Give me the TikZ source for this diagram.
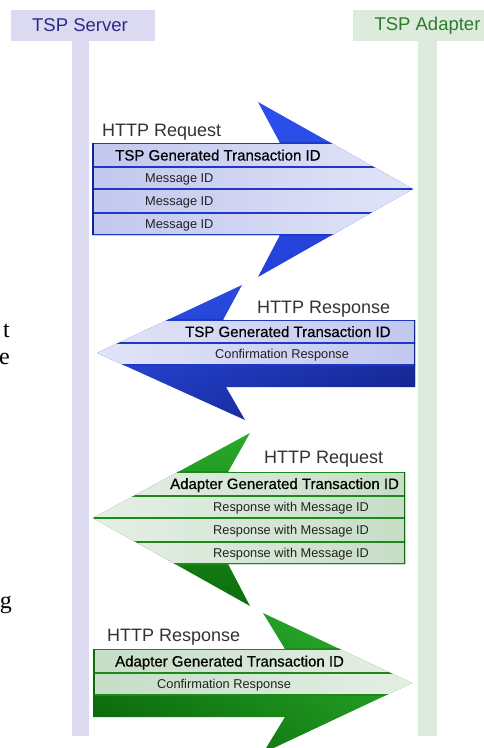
\documentclass[tikz,border=0pt]{standalone}
\usepackage{fontspec}
\setmainfont{Liberation Sans}
\newfontfamily\pageserif{Liberation Serif}
\newfontfamily\titlefont[FakeBold=0.6]{Liberation Sans}
\definecolor{srvfill}{HTML}{DCDAF0}
\definecolor{adpfill}{HTML}{DCEBDC}
\definecolor{srvtext}{HTML}{2A2A8C}
\definecolor{adptext}{HTML}{2E7B2E}
\definecolor{bluebright}{HTML}{2C50EC}
\definecolor{bluemid}{HTML}{2440D8}
\definecolor{bluenavy}{HTML}{152590}
\definecolor{blueline}{HTML}{2038C8}
\definecolor{rowbdark}{HTML}{C2C7EE}
\definecolor{rowblight}{HTML}{E2E5F8}
\definecolor{greenbright}{HTML}{2AAA2A}
\definecolor{greenmid}{HTML}{1E901E}
\definecolor{greendark}{HTML}{0C6C0C}
\definecolor{greenline}{HTML}{1A8A1A}
\definecolor{rowgdark}{HTML}{C6DDC6}
\definecolor{rowglight}{HTML}{E6F0E6}
\definecolor{txtgray}{HTML}{333333}
\definecolor{txtdark}{HTML}{222222}
\begin{document}
\begin{tikzpicture}[x=1pt,y=-1pt,
  hdr/.style={font=\fontsize{18.5}{20}\selectfont, inner sep=0},
  big/.style={font=\fontsize{18}{20}\selectfont, text=txtgray, inner sep=0, anchor=base west},
  ttl/.style={font=\titlefont\fontsize{15}{17}\selectfont, text=black, inner sep=0, anchor=base west},
  sml/.style={font=\fontsize{12.8}{14}\selectfont, text=txtdark, inner sep=0, anchor=base west},
  frag/.style={font=\pageserif\fontsize{24}{26}\selectfont, text=black, inner sep=0, anchor=base east},
  sep/.style={line width=1.5pt},
  edge/.style={line width=3pt},
]
\useasboundingbox (0,0) rectangle (483,748);
\fill[white] (0,0) rectangle (483,748);

% lifelines and headers
\fill[srvfill] (11,10) rectangle (155,41);
\fill[srvfill] (72,41) rectangle (89,736);
\fill[adpfill] (353,10) rectangle (490,41);
\fill[adpfill] (418,41) rectangle (437,736);
\node[hdr, text=srvtext] (srv) at (80,25.5) {TSP Server};
\node[hdr, text=adptext] (adp) at (427.5,25.5) {TSP Adapter};

% page fragments at the left edge
\node[frag] (fragt) at (10,337) {t};
\node[frag] (frage) at (10,364) {e};
\node[frag] (fragg) at (12,608) {g};

% ---------- Arrow 1 (blue, to the right) ----------
\coordinate (A1a) at (92,143);
\coordinate (A1b) at (280,143);
\coordinate (A1c) at (258,102);
\coordinate (A1t) at (413,189);
\coordinate (A1d) at (258,277);
\coordinate (A1e) at (280,235);
\coordinate (A1f) at (92,235);
\shade[top color=bluebright, bottom color=bluemid]
  (A1a) -- (A1b) -- (A1c) -- (A1t) -- (A1d) -- (A1e) -- (A1f) -- cycle;
\begin{scope}
  \clip (A1a) -- (A1b) -- (A1c) -- (A1t) -- (A1d) -- (A1e) -- (A1f) -- cycle;
  \shade[left color=rowbdark, right color=rowblight] (92,143) rectangle (420,235);
  \draw[sep, blueline] (80,143) -- (420,143) (80,167) -- (420,167)
    (80,189) -- (420,189) (80,213) -- (420,213) (80,235) -- (420,235);
  \draw[edge, bluenavy] (92,143) -- (92,235);
\end{scope}
\node[big] (r1) at (102,136.5) {HTTP Request};
\node[ttl] (r1t) at (115,160.5) {TSP Generated Transaction ID};
\node[sml] (r1m1) at (145,182.5) {Message ID};
\node[sml] (r1m2) at (145,205.5) {Message ID};
\node[sml] (r1m3) at (145,228.5) {Message ID};

% ---------- Arrow 2 (blue, to the left) ----------
\coordinate (A2a) at (415,320);
\coordinate (A2b) at (223,320);
\coordinate (A2c) at (242,285);
\coordinate (A2t) at (97,353);
\coordinate (A2d) at (245,420);
\coordinate (A2e) at (226,387);
\coordinate (A2f) at (415,387);
\shade[top color=bluebright, bottom color=bluenavy, shading angle=20]
  (A2a) -- (A2b) -- (A2c) -- (A2t) -- (A2d) -- (A2e) -- (A2f) -- cycle;
\begin{scope}
  \clip (A2a) -- (A2b) -- (A2c) -- (A2t) -- (A2d) -- (A2e) -- (A2f) -- cycle;
  \shade[left color=rowblight, right color=rowbdark] (90,320) rectangle (415,365);
  \draw[sep, blueline] (90,320) -- (420,320) (90,343) -- (420,343) (90,365) -- (420,365);
  \draw[edge, bluenavy] (415,320) -- (415,387);
\end{scope}
\node[big] (r2) at (257,313.5) {HTTP Response};
\node[ttl] (r2t) at (185,337) {TSP Generated Transaction ID};
\node[sml] (r2c) at (215,358.5) {Confirmation Response};

% ---------- Arrow 3 (green, to the left) ----------
\coordinate (A3a) at (405,472);
\coordinate (A3b) at (228,472);
\coordinate (A3c) at (250,433);
\coordinate (A3t) at (93,518);
\coordinate (A3d) at (250,606);
\coordinate (A3e) at (228,564);
\coordinate (A3f) at (405,564);
\shade[top color=greenbright, bottom color=greendark]
  (A3a) -- (A3b) -- (A3c) -- (A3t) -- (A3d) -- (A3e) -- (A3f) -- cycle;
\begin{scope}
  \clip (A3a) -- (A3b) -- (A3c) -- (A3t) -- (A3d) -- (A3e) -- (A3f) -- cycle;
  \shade[left color=rowglight, right color=rowgdark] (90,472) rectangle (405,564);
  \draw[sep, greenline] (90,472) -- (410,472) (90,496) -- (410,496)
    (90,518) -- (410,518) (90,542) -- (410,542) (90,564) -- (410,564);
  \draw[edge, greendark] (405,472) -- (405,564);
\end{scope}
\node[big] (r3) at (264,463.5) {HTTP Request};
\node[ttl] (r3t) at (170,489) {Adapter Generated Transaction ID};
\node[sml] (r3m1) at (213,511.5) {Response with Message ID};
\node[sml] (r3m2) at (213,534.5) {Response with Message ID};
\node[sml] (r3m3) at (213,557.5) {Response with Message ID};

% ---------- Arrow 4 (green, to the right) ----------
\coordinate (A4a) at (93,649);
\coordinate (A4b) at (285,649);
\coordinate (A4c) at (263,613);
\coordinate (A4t) at (412,683);
\coordinate (A4d) at (263,753);
\coordinate (A4e) at (285,717);
\coordinate (A4f) at (93,717);
\shade[top color=greenbright, bottom color=greendark, shading angle=-30]
  (A4a) -- (A4b) -- (A4c) -- (A4t) -- (A4d) -- (A4e) -- (A4f) -- cycle;
\begin{scope}
  \clip (A4a) -- (A4b) -- (A4c) -- (A4t) -- (A4d) -- (A4e) -- (A4f) -- cycle;
  \shade[left color=rowgdark, right color=rowglight] (93,649) rectangle (420,695);
  \draw[sep, greenline] (80,649) -- (420,649) (80,673) -- (420,673) (80,695) -- (420,695);
  \draw[edge, greendark] (93,649) -- (93,717);
\end{scope}
\node[big] (r4) at (107,641.5) {HTTP Response};
\node[ttl] (r4t) at (115,666.5) {Adapter Generated Transaction ID};
\node[sml] (r4c) at (157,688.5) {Confirmation Response};
\end{tikzpicture}
\end{document}
